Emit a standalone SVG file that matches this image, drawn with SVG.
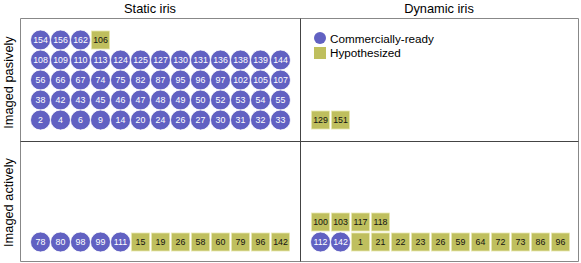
<svg xmlns="http://www.w3.org/2000/svg" width="581" height="263" viewBox="0 0 581 263">
<style>
text{font-family:"Liberation Sans",Arial,sans-serif}
.c{fill:#6161c2;stroke:#ffffff;stroke-width:0.8}
.s{fill:#bfbf5e;stroke:#e8e8b0;stroke-width:0.8}
.ct{fill:#ffffff;font-size:8.8px;text-anchor:middle}
.st{fill:#111111;font-size:8.8px;text-anchor:middle}
.title{font-size:12.8px;fill:#000;text-anchor:middle}
.leg{font-size:11.7px;fill:#000}
.outer{stroke:#888;stroke-width:1;fill:none}
.inner{stroke:#444;stroke-width:1;fill:none}
</style>
<rect width="581" height="263" fill="#fff"/>
<g id="frame">
<path class="outer" d="M20.5,18.5H578.5V261.5H20.5Z"/>
<path class="inner" d="M300.5,18.5V261.5M20.5,141.5H578.5"/>
</g>
<g id="labels">
<text class="title" x="150" y="13">Static iris</text>
<text class="title" x="439" y="13">Dynamic iris</text>
<text class="title" transform="translate(12.5,82.5) rotate(-90)">Imaged pasively</text>
<text class="title" transform="translate(12.5,202.5) rotate(-90)">Imaged actively</text>
</g>
<g id="legend">
<circle cx="320" cy="38" r="6" fill="#6161c2"/>
<text class="leg" x="330" y="43">Commercially-ready</text>
<rect x="314" y="47" width="12" height="12" fill="#bfbf5e"/>
<text class="leg" x="330" y="57">Hypothesized</text>
</g>
<g id="connectors"></g>
<g id="static-passive">
<g id="sp-154"><circle class="c" cx="40.5" cy="40" r="10"/><text class="ct" x="40.5" y="43.2">154</text></g>
<g id="sp-156"><circle class="c" cx="60.5" cy="40" r="10"/><text class="ct" x="60.5" y="43.2">156</text></g>
<g id="sp-162"><circle class="c" cx="80.5" cy="40" r="10"/><text class="ct" x="80.5" y="43.2">162</text></g>
<g id="sp-106"><rect class="s" x="91.5" y="31" width="18" height="18"/><text class="st" x="100.5" y="43.2">106</text></g>

<g id="sp-108"><circle class="c" cx="40.5" cy="60" r="10"/><text class="ct" x="40.5" y="63.2">108</text></g>
<g id="sp-109"><circle class="c" cx="60.5" cy="60" r="10"/><text class="ct" x="60.5" y="63.2">109</text></g>
<g id="sp-110"><circle class="c" cx="80.5" cy="60" r="10"/><text class="ct" x="80.5" y="63.2">110</text></g>
<g id="sp-113"><circle class="c" cx="100.5" cy="60" r="10"/><text class="ct" x="100.5" y="63.2">113</text></g>
<g id="sp-124"><circle class="c" cx="120.5" cy="60" r="10"/><text class="ct" x="120.5" y="63.2">124</text></g>
<g id="sp-125"><circle class="c" cx="140.5" cy="60" r="10"/><text class="ct" x="140.5" y="63.2">125</text></g>
<g id="sp-127"><circle class="c" cx="160.5" cy="60" r="10"/><text class="ct" x="160.5" y="63.2">127</text></g>
<g id="sp-130"><circle class="c" cx="180.5" cy="60" r="10"/><text class="ct" x="180.5" y="63.2">130</text></g>
<g id="sp-131"><circle class="c" cx="200.5" cy="60" r="10"/><text class="ct" x="200.5" y="63.2">131</text></g>
<g id="sp-136"><circle class="c" cx="220.5" cy="60" r="10"/><text class="ct" x="220.5" y="63.2">136</text></g>
<g id="sp-138"><circle class="c" cx="240.5" cy="60" r="10"/><text class="ct" x="240.5" y="63.2">138</text></g>
<g id="sp-139"><circle class="c" cx="260.5" cy="60" r="10"/><text class="ct" x="260.5" y="63.2">139</text></g>
<g id="sp-144"><circle class="c" cx="280.5" cy="60" r="10"/><text class="ct" x="280.5" y="63.2">144</text></g>

<g id="sp-56"><circle class="c" cx="40.5" cy="80" r="10"/><text class="ct" x="40.5" y="83.2">56</text></g>
<g id="sp-66"><circle class="c" cx="60.5" cy="80" r="10"/><text class="ct" x="60.5" y="83.2">66</text></g>
<g id="sp-67"><circle class="c" cx="80.5" cy="80" r="10"/><text class="ct" x="80.5" y="83.2">67</text></g>
<g id="sp-74"><circle class="c" cx="100.5" cy="80" r="10"/><text class="ct" x="100.5" y="83.2">74</text></g>
<g id="sp-75"><circle class="c" cx="120.5" cy="80" r="10"/><text class="ct" x="120.5" y="83.2">75</text></g>
<g id="sp-82"><circle class="c" cx="140.5" cy="80" r="10"/><text class="ct" x="140.5" y="83.2">82</text></g>
<g id="sp-87"><circle class="c" cx="160.5" cy="80" r="10"/><text class="ct" x="160.5" y="83.2">87</text></g>
<g id="sp-95"><circle class="c" cx="180.5" cy="80" r="10"/><text class="ct" x="180.5" y="83.2">95</text></g>
<g id="sp-96"><circle class="c" cx="200.5" cy="80" r="10"/><text class="ct" x="200.5" y="83.2">96</text></g>
<g id="sp-97"><circle class="c" cx="220.5" cy="80" r="10"/><text class="ct" x="220.5" y="83.2">97</text></g>
<g id="sp-102"><circle class="c" cx="240.5" cy="80" r="10"/><text class="ct" x="240.5" y="83.2">102</text></g>
<g id="sp-105"><circle class="c" cx="260.5" cy="80" r="10"/><text class="ct" x="260.5" y="83.2">105</text></g>
<g id="sp-107"><circle class="c" cx="280.5" cy="80" r="10"/><text class="ct" x="280.5" y="83.2">107</text></g>

<g id="sp-38"><circle class="c" cx="40.5" cy="100" r="10"/><text class="ct" x="40.5" y="103.2">38</text></g>
<g id="sp-42"><circle class="c" cx="60.5" cy="100" r="10"/><text class="ct" x="60.5" y="103.2">42</text></g>
<g id="sp-43"><circle class="c" cx="80.5" cy="100" r="10"/><text class="ct" x="80.5" y="103.2">43</text></g>
<g id="sp-45"><circle class="c" cx="100.5" cy="100" r="10"/><text class="ct" x="100.5" y="103.2">45</text></g>
<g id="sp-46"><circle class="c" cx="120.5" cy="100" r="10"/><text class="ct" x="120.5" y="103.2">46</text></g>
<g id="sp-47"><circle class="c" cx="140.5" cy="100" r="10"/><text class="ct" x="140.5" y="103.2">47</text></g>
<g id="sp-48"><circle class="c" cx="160.5" cy="100" r="10"/><text class="ct" x="160.5" y="103.2">48</text></g>
<g id="sp-49"><circle class="c" cx="180.5" cy="100" r="10"/><text class="ct" x="180.5" y="103.2">49</text></g>
<g id="sp-50"><circle class="c" cx="200.5" cy="100" r="10"/><text class="ct" x="200.5" y="103.2">50</text></g>
<g id="sp-52"><circle class="c" cx="220.5" cy="100" r="10"/><text class="ct" x="220.5" y="103.2">52</text></g>
<g id="sp-53"><circle class="c" cx="240.5" cy="100" r="10"/><text class="ct" x="240.5" y="103.2">53</text></g>
<g id="sp-54"><circle class="c" cx="260.5" cy="100" r="10"/><text class="ct" x="260.5" y="103.2">54</text></g>
<g id="sp-55"><circle class="c" cx="280.5" cy="100" r="10"/><text class="ct" x="280.5" y="103.2">55</text></g>

<g id="sp-2"><circle class="c" cx="40.5" cy="120" r="10"/><text class="ct" x="40.5" y="123.2">2</text></g>
<g id="sp-4"><circle class="c" cx="60.5" cy="120" r="10"/><text class="ct" x="60.5" y="123.2">4</text></g>
<g id="sp-6"><circle class="c" cx="80.5" cy="120" r="10"/><text class="ct" x="80.5" y="123.2">6</text></g>
<g id="sp-9"><circle class="c" cx="100.5" cy="120" r="10"/><text class="ct" x="100.5" y="123.2">9</text></g>
<g id="sp-14"><circle class="c" cx="120.5" cy="120" r="10"/><text class="ct" x="120.5" y="123.2">14</text></g>
<g id="sp-20"><circle class="c" cx="140.5" cy="120" r="10"/><text class="ct" x="140.5" y="123.2">20</text></g>
<g id="sp-24"><circle class="c" cx="160.5" cy="120" r="10"/><text class="ct" x="160.5" y="123.2">24</text></g>
<g id="sp-26"><circle class="c" cx="180.5" cy="120" r="10"/><text class="ct" x="180.5" y="123.2">26</text></g>
<g id="sp-27"><circle class="c" cx="200.5" cy="120" r="10"/><text class="ct" x="200.5" y="123.2">27</text></g>
<g id="sp-30"><circle class="c" cx="220.5" cy="120" r="10"/><text class="ct" x="220.5" y="123.2">30</text></g>
<g id="sp-31"><circle class="c" cx="240.5" cy="120" r="10"/><text class="ct" x="240.5" y="123.2">31</text></g>
<g id="sp-32"><circle class="c" cx="260.5" cy="120" r="10"/><text class="ct" x="260.5" y="123.2">32</text></g>
<g id="sp-33"><circle class="c" cx="280.5" cy="120" r="10"/><text class="ct" x="280.5" y="123.2">33</text></g>
</g>
<g id="dynamic-passive">
<g id="dp-129"><rect class="s" x="311.5" y="111" width="18" height="18"/><text class="st" x="320.5" y="123.2">129</text></g>
<g id="dp-151"><rect class="s" x="331.5" y="111" width="18" height="18"/><text class="st" x="340.5" y="123.2">151</text></g>
</g>
<g id="static-active">
<g id="sa-78"><circle class="c" cx="40.5" cy="242" r="10"/><text class="ct" x="40.5" y="245.2">78</text></g>
<g id="sa-80"><circle class="c" cx="60.5" cy="242" r="10"/><text class="ct" x="60.5" y="245.2">80</text></g>
<g id="sa-98"><circle class="c" cx="80.5" cy="242" r="10"/><text class="ct" x="80.5" y="245.2">98</text></g>
<g id="sa-99"><circle class="c" cx="100.5" cy="242" r="10"/><text class="ct" x="100.5" y="245.2">99</text></g>
<g id="sa-111"><circle class="c" cx="120.5" cy="242" r="10"/><text class="ct" x="120.5" y="245.2">111</text></g>
<g id="sa-15"><rect class="s" x="131.5" y="233" width="18" height="18"/><text class="st" x="140.5" y="245.2">15</text></g>
<g id="sa-19"><rect class="s" x="151.5" y="233" width="18" height="18"/><text class="st" x="160.5" y="245.2">19</text></g>
<g id="sa-26"><rect class="s" x="171.5" y="233" width="18" height="18"/><text class="st" x="180.5" y="245.2">26</text></g>
<g id="sa-58"><rect class="s" x="191.5" y="233" width="18" height="18"/><text class="st" x="200.5" y="245.2">58</text></g>
<g id="sa-60"><rect class="s" x="211.5" y="233" width="18" height="18"/><text class="st" x="220.5" y="245.2">60</text></g>
<g id="sa-79"><rect class="s" x="231.5" y="233" width="18" height="18"/><text class="st" x="240.5" y="245.2">79</text></g>
<g id="sa-96"><rect class="s" x="251.5" y="233" width="18" height="18"/><text class="st" x="260.5" y="245.2">96</text></g>
<g id="sa-142"><rect class="s" x="271.5" y="233" width="18" height="18"/><text class="st" x="280.5" y="245.2">142</text></g>
</g>
<g id="dynamic-active">
<g id="da-100"><rect class="s" x="311.5" y="213" width="18" height="18"/><text class="st" x="320.5" y="225.2">100</text></g>
<g id="da-103"><rect class="s" x="331.5" y="213" width="18" height="18"/><text class="st" x="340.5" y="225.2">103</text></g>
<g id="da-117"><rect class="s" x="351.5" y="213" width="18" height="18"/><text class="st" x="360.5" y="225.2">117</text></g>
<g id="da-118"><rect class="s" x="371.5" y="213" width="18" height="18"/><text class="st" x="380.5" y="225.2">118</text></g>
<g id="da-112"><circle class="c" cx="320.5" cy="242" r="10"/><text class="ct" x="320.5" y="245.2">112</text></g>
<g id="da-142"><circle class="c" cx="340.5" cy="242" r="10"/><text class="ct" x="340.5" y="245.2">142</text></g>
<g id="da-1"><rect class="s" x="351.5" y="233" width="18" height="18"/><text class="st" x="360.5" y="245.2">1</text></g>
<g id="da-21"><rect class="s" x="371.5" y="233" width="18" height="18"/><text class="st" x="380.5" y="245.2">21</text></g>
<g id="da-22"><rect class="s" x="391.5" y="233" width="18" height="18"/><text class="st" x="400.5" y="245.2">22</text></g>
<g id="da-23"><rect class="s" x="411.5" y="233" width="18" height="18"/><text class="st" x="420.5" y="245.2">23</text></g>
<g id="da-26"><rect class="s" x="431.5" y="233" width="18" height="18"/><text class="st" x="440.5" y="245.2">26</text></g>
<g id="da-59"><rect class="s" x="451.5" y="233" width="18" height="18"/><text class="st" x="460.5" y="245.2">59</text></g>
<g id="da-64"><rect class="s" x="471.5" y="233" width="18" height="18"/><text class="st" x="480.5" y="245.2">64</text></g>
<g id="da-72"><rect class="s" x="491.5" y="233" width="18" height="18"/><text class="st" x="500.5" y="245.2">72</text></g>
<g id="da-73"><rect class="s" x="511.5" y="233" width="18" height="18"/><text class="st" x="520.5" y="245.2">73</text></g>
<g id="da-86"><rect class="s" x="531.5" y="233" width="18" height="18"/><text class="st" x="540.5" y="245.2">86</text></g>
<g id="da-96"><rect class="s" x="551.5" y="233" width="18" height="18"/><text class="st" x="560.5" y="245.2">96</text></g>
</g>
</svg>
